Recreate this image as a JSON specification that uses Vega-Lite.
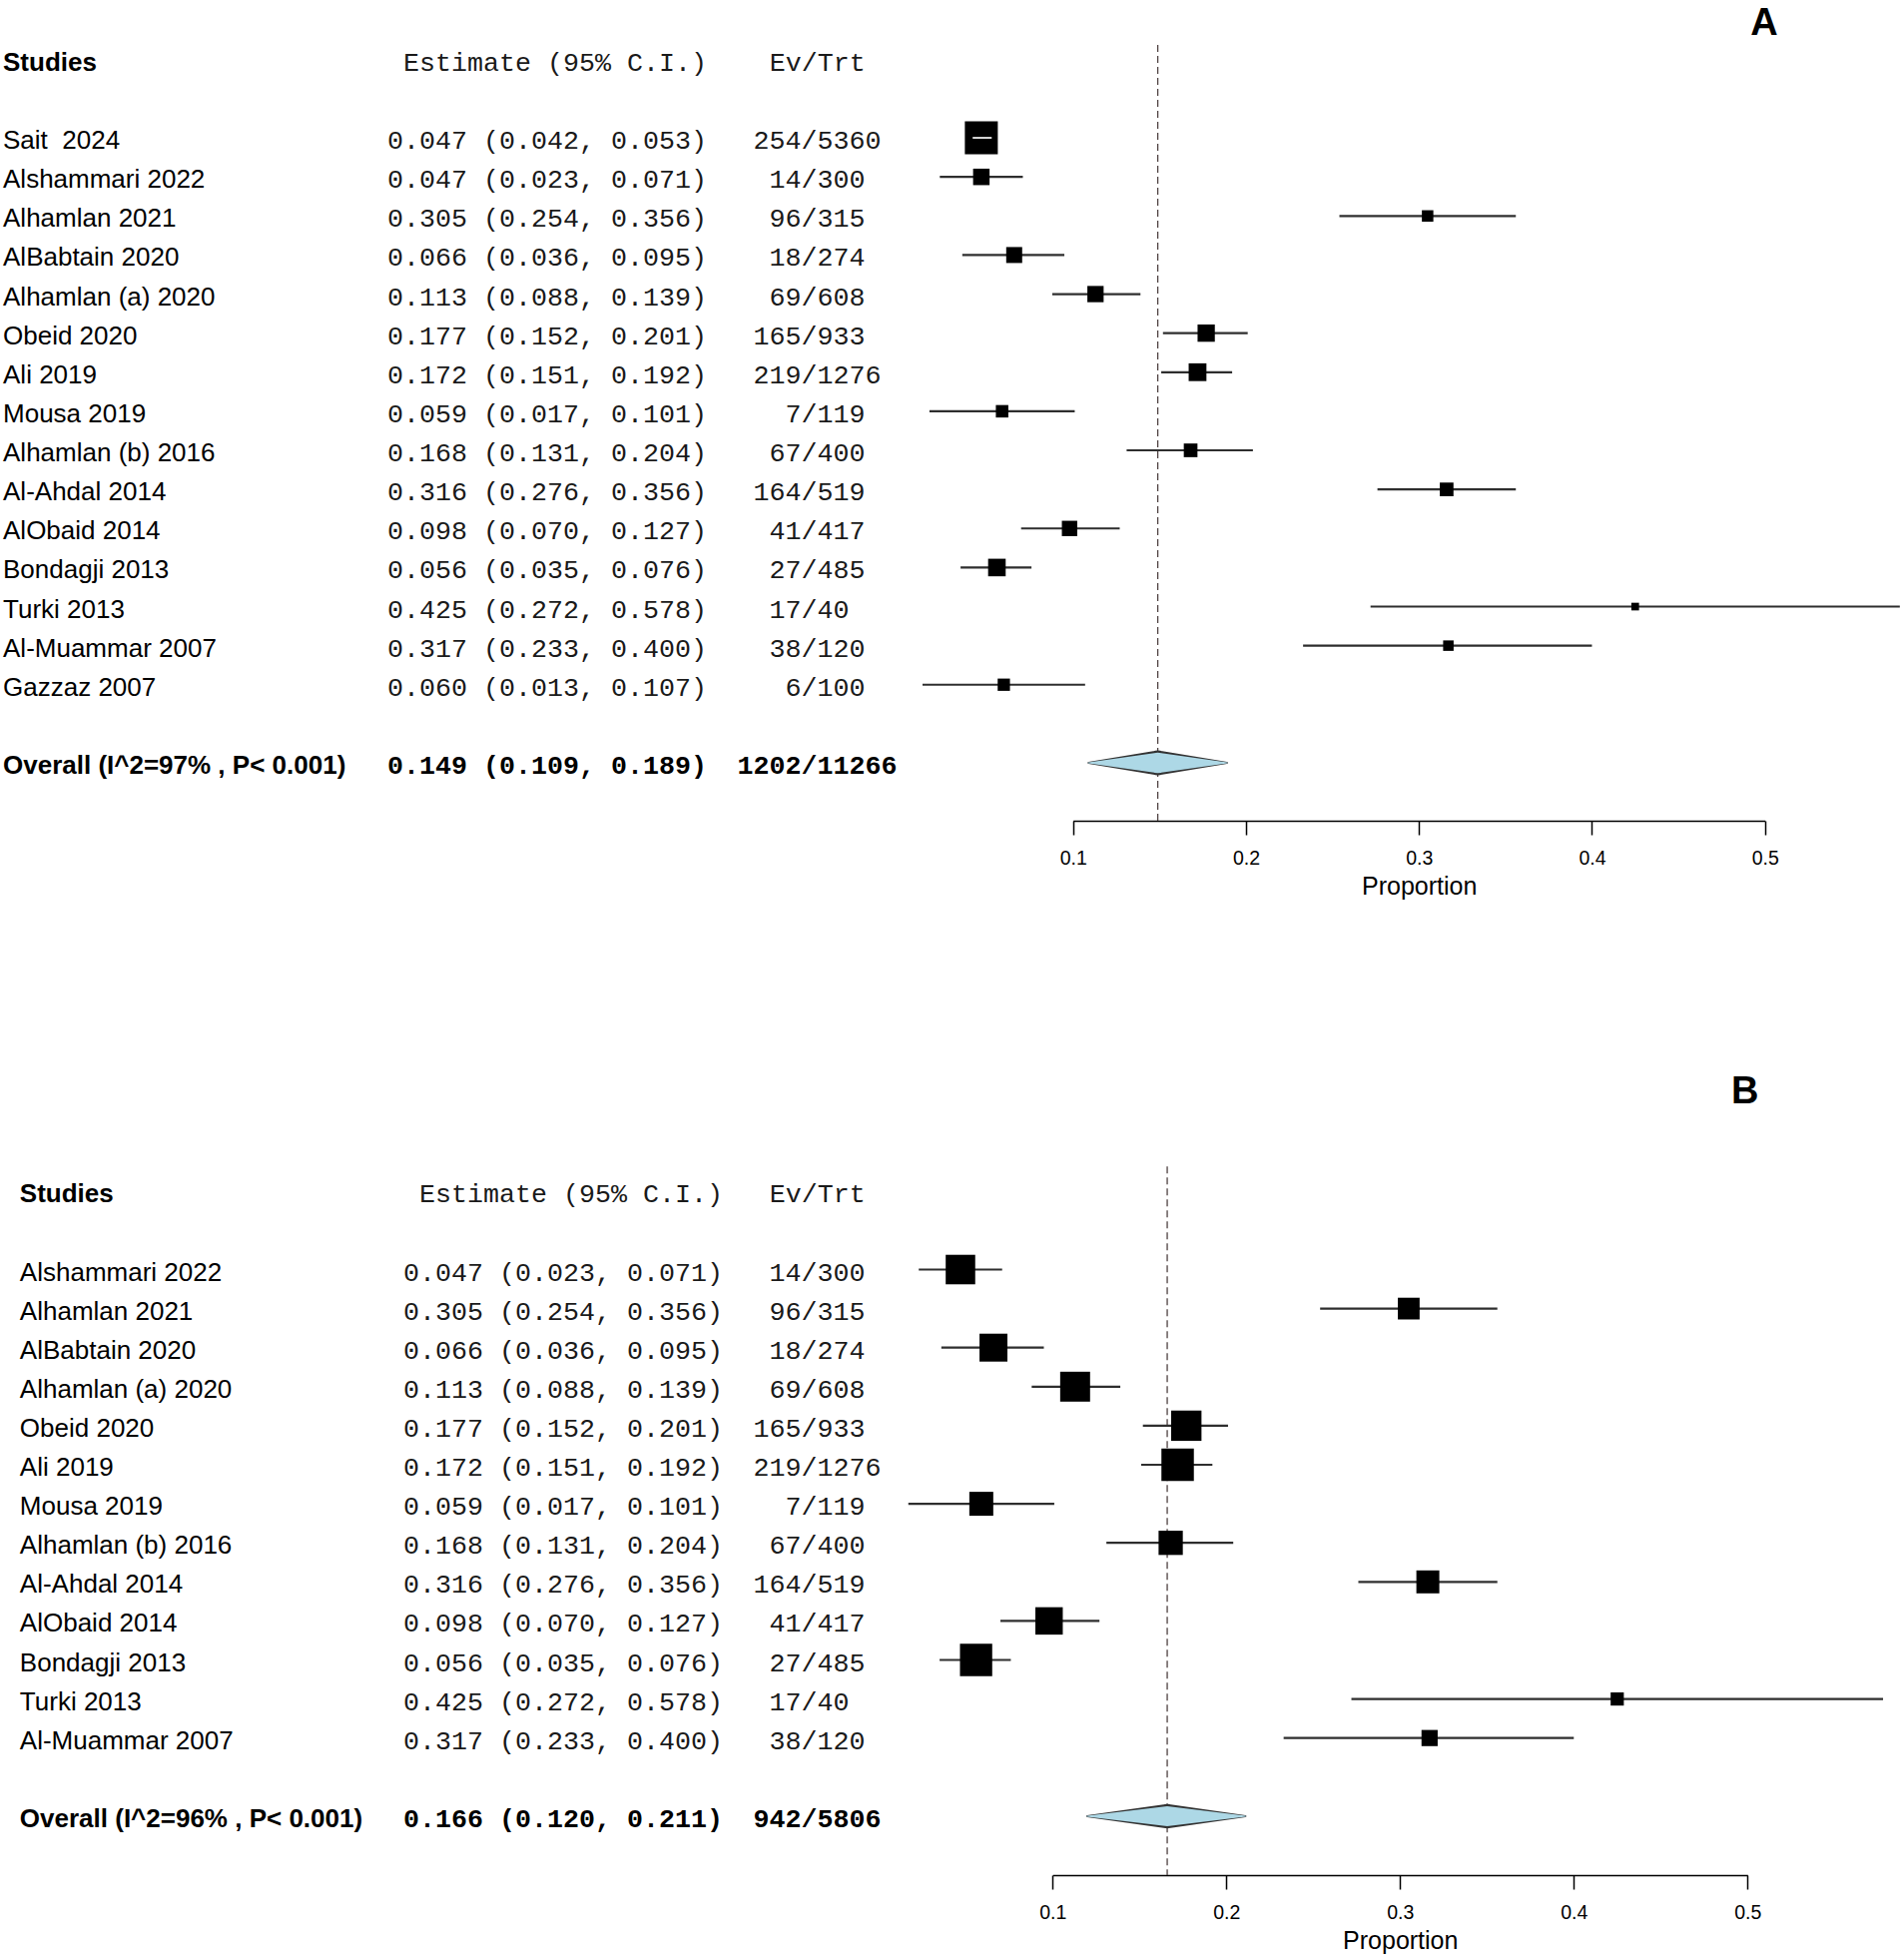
{
"$schema":"https://vega.github.io/schema/vega-lite/v6.json",
"background":"white",
"padding":0,
"spacing":228,
"bounds":"flush",
"config":{
 "view":{"stroke":null},
 "axis":{"grid":false,"domainColor":"black","domainWidth":1.5,"tickColor":"black","tickWidth":1.5,"tickSize":14,"labelFont":"Liberation Sans","labelFontSize":19.5,"labelColor":"black","labelPadding":14,"labelFlush":false,"labelOverlap":false,"titleFont":"Liberation Sans","titleFontSize":25,"titleFontWeight":"normal","titleColor":"black","titlePadding":7}
},
"datasets":{
 "A":[
  {"study":"Sait \u00a02024","row":3,"est":0.047,"lo":0.042,"hi":0.053,"ci":"0.047 (0.042, 0.053)","events":254,"total":5360,"weight":14.24,"type":"study"},
  {"study":"Alshammari 2022","row":4,"est":0.047,"lo":0.023,"hi":0.071,"ci":"0.047 (0.023, 0.071)","events":14,"total":300,"weight":7.12,"type":"study"},
  {"study":"Alhamlan 2021","row":5,"est":0.305,"lo":0.254,"hi":0.356,"ci":"0.305 (0.254, 0.356)","events":96,"total":315,"weight":4.96,"type":"study"},
  {"study":"AlBabtain 2020","row":6,"est":0.066,"lo":0.036,"hi":0.095,"ci":"0.066 (0.036, 0.095)","events":18,"total":274,"weight":6.90,"type":"study"},
  {"study":"Alhamlan (a) 2020","row":7,"est":0.113,"lo":0.088,"hi":0.139,"ci":"0.113 (0.088, 0.139)","events":69,"total":608,"weight":7.03,"type":"study"},
  {"study":"Obeid 2020","row":8,"est":0.177,"lo":0.152,"hi":0.201,"ci":"0.177 (0.152, 0.201)","events":165,"total":933,"weight":7.46,"type":"study"},
  {"study":"Ali 2019","row":9,"est":0.172,"lo":0.151,"hi":0.192,"ci":"0.172 (0.151, 0.192)","events":219,"total":1276,"weight":7.68,"type":"study"},
  {"study":"Mousa 2019","row":10,"est":0.059,"lo":0.017,"hi":0.101,"ci":"0.059 (0.017, 0.101)","events":7,"total":119,"weight":5.39,"type":"study"},
  {"study":"Alhamlan (b) 2016","row":11,"est":0.168,"lo":0.131,"hi":0.204,"ci":"0.168 (0.131, 0.204)","events":67,"total":400,"weight":5.91,"type":"study"},
  {"study":"Al-Ahdal 2014","row":12,"est":0.316,"lo":0.276,"hi":0.356,"ci":"0.316 (0.276, 0.356)","events":164,"total":519,"weight":5.91,"type":"study"},
  {"study":"AlObaid 2014","row":13,"est":0.098,"lo":0.070,"hi":0.127,"ci":"0.098 (0.070, 0.127)","events":41,"total":417,"weight":6.64,"type":"study"},
  {"study":"Bondagji 2013","row":14,"est":0.056,"lo":0.035,"hi":0.076,"ci":"0.056 (0.035, 0.076)","events":27,"total":485,"weight":7.59,"type":"study"},
  {"study":"Turki 2013","row":15,"est":0.425,"lo":0.272,"hi":0.578,"ci":"0.425 (0.272, 0.578)","events":17,"total":40,"weight":3.32,"type":"study"},
  {"study":"Al-Muammar 2007","row":16,"est":0.317,"lo":0.233,"hi":0.400,"ci":"0.317 (0.233, 0.400)","events":38,"total":120,"weight":4.53,"type":"study"},
  {"study":"Gazzaz 2007","row":17,"est":0.060,"lo":0.013,"hi":0.107,"ci":"0.060 (0.013, 0.107)","events":6,"total":100,"weight":5.31,"type":"study"},
  {"study":"Overall (I^2=97% , P< 0.001)","row":19,"est":0.149,"lo":0.109,"hi":0.189,"ci":"0.149 (0.109, 0.189)","events":1202,"total":11266,"type":"overall"}
 ],
 "B":[
  {"study":"Alshammari 2022","row":3,"est":0.047,"lo":0.023,"hi":0.071,"ci":"0.047 (0.023, 0.071)","events":14,"total":300,"weight":8.89,"type":"study"},
  {"study":"Alhamlan 2021","row":4,"est":0.305,"lo":0.254,"hi":0.356,"ci":"0.305 (0.254, 0.356)","events":96,"total":315,"weight":6.55,"type":"study"},
  {"study":"AlBabtain 2020","row":5,"est":0.066,"lo":0.036,"hi":0.095,"ci":"0.066 (0.036, 0.095)","events":18,"total":274,"weight":8.41,"type":"study"},
  {"study":"Alhamlan (a) 2020","row":6,"est":0.113,"lo":0.088,"hi":0.139,"ci":"0.113 (0.088, 0.139)","events":69,"total":608,"weight":9.01,"type":"study"},
  {"study":"Obeid 2020","row":7,"est":0.177,"lo":0.152,"hi":0.201,"ci":"0.177 (0.152, 0.201)","events":165,"total":933,"weight":9.13,"type":"study"},
  {"study":"Ali 2019","row":8,"est":0.172,"lo":0.151,"hi":0.192,"ci":"0.172 (0.151, 0.192)","events":219,"total":1276,"weight":9.77,"type":"study"},
  {"study":"Mousa 2019","row":9,"est":0.059,"lo":0.017,"hi":0.101,"ci":"0.059 (0.017, 0.101)","events":7,"total":119,"weight":7.21,"type":"study"},
  {"study":"Alhamlan (b) 2016","row":10,"est":0.168,"lo":0.131,"hi":0.204,"ci":"0.168 (0.131, 0.204)","events":67,"total":400,"weight":7.30,"type":"study"},
  {"study":"Al-Ahdal 2014","row":11,"est":0.316,"lo":0.276,"hi":0.356,"ci":"0.316 (0.276, 0.356)","events":164,"total":519,"weight":6.91,"type":"study"},
  {"study":"AlObaid 2014","row":12,"est":0.098,"lo":0.070,"hi":0.127,"ci":"0.098 (0.070, 0.127)","events":41,"total":417,"weight":8.26,"type":"study"},
  {"study":"Bondagji 2013","row":13,"est":0.056,"lo":0.035,"hi":0.076,"ci":"0.056 (0.035, 0.076)","events":27,"total":485,"weight":9.71,"type":"study"},
  {"study":"Turki 2013","row":14,"est":0.425,"lo":0.272,"hi":0.578,"ci":"0.425 (0.272, 0.578)","events":17,"total":40,"weight":3.97,"type":"study"},
  {"study":"Al-Muammar 2007","row":15,"est":0.317,"lo":0.233,"hi":0.400,"ci":"0.317 (0.233, 0.400)","events":38,"total":120,"weight":4.87,"type":"study"},
  {"study":"Overall (I^2=96% , P< 0.001)","row":17,"est":0.166,"lo":0.120,"hi":0.211,"ci":"0.166 (0.120, 0.211)","events":942,"total":5806,"type":"overall"}
 ]
},
"resolve":{"scale":{"x":"independent","y":"independent","size":"independent"}},
"vconcat":[
 {"width":1907,"height":822,"data":{"name":"A"},"layer":[
  {"transform":[{"filter":"datum.type === 'overall'"}],"mark":{"type":"rule","stroke":"#4d4040","strokeWidth":1.3,"strokeDash":[7,4]},
   "encoding":{"x":{"field":"est","type":"quantitative","scale":{"domain":[0.1,0.5],"range":[1074.7,1767.7],"nice":false,"zero":false},"axis":{"values":[0.1,0.2,0.3,0.4,0.5],"format":".1f","title":"Proportion"}},
   "y":{"datum":0.62,"type":"quantitative","scale":{"domain":[1,19],"range":[59.8,764],"nice":false,"zero":false},"axis":null},"y2":{"datum":20.49}}},
  {"transform":[{"filter":"datum.type === 'study'"}],"mark":{"type":"rule","stroke":"#2e2e2e","strokeWidth":2.2},
   "encoding":{"x":{"field":"lo","type":"quantitative","scale":{"domain":[0.1,0.5],"range":[1074.7,1767.7],"nice":false,"zero":false},"axis":{"values":[0.1,0.2,0.3,0.4,0.5],"format":".1f","title":"Proportion"}},"x2":{"field":"hi"},
   "y":{"field":"row","type":"quantitative","scale":{"domain":[1,19],"range":[59.8,764],"nice":false,"zero":false},"axis":null}}},
  {"transform":[{"filter":"datum.type === 'study'"}],"mark":{"type":"square","color":"black","opacity":1},
   "encoding":{"x":{"field":"est","type":"quantitative","scale":{"domain":[0.1,0.5],"range":[1074.7,1767.7],"nice":false,"zero":false},"axis":{"values":[0.1,0.2,0.3,0.4,0.5],"format":".1f","title":"Proportion"}},
   "y":{"field":"row","type":"quantitative","scale":{"domain":[1,19],"range":[59.8,764],"nice":false,"zero":false},"axis":null},
   "size":{"field":"weight","type":"quantitative","scale":{"type":"pow","exponent":2,"domain":[0,14.24],"range":[0,1089]},"legend":null}}},
  {"transform":[{"filter":"datum.type === 'study' && datum.hi - datum.lo < 0.015"}],"mark":{"type":"rule","stroke":"#d9d9d9","strokeWidth":2},
   "encoding":{"x":{"field":"lo","type":"quantitative","scale":{"domain":[0.1,0.5],"range":[1074.7,1767.7],"nice":false,"zero":false},"axis":{"values":[0.1,0.2,0.3,0.4,0.5],"format":".1f","title":"Proportion"}},"x2":{"field":"hi"},
   "y":{"field":"row","type":"quantitative","scale":{"domain":[1,19],"range":[59.8,764],"nice":false,"zero":false},"axis":null}}},
  {"transform":[{"filter":"datum.type === 'overall'"},{"fold":["lo","est","hi"],"as":["k","v"]}],"mark":{"type":"trail","color":"#333333"},
   "encoding":{"x":{"field":"v","type":"quantitative","scale":{"domain":[0.1,0.5],"range":[1074.7,1767.7],"nice":false,"zero":false},"axis":{"values":[0.1,0.2,0.3,0.4,0.5],"format":".1f","title":"Proportion"}},
   "y":{"field":"row","type":"quantitative","scale":{"domain":[1,19],"range":[59.8,764],"nice":false,"zero":false},"axis":null},
   "size":{"condition":{"test":"datum.k === 'est'","value":25},"value":2}}},
  {"transform":[{"filter":"datum.type === 'overall'"},{"fold":["lo","est","hi"],"as":["k","v"]}],"mark":{"type":"trail","color":"#ADD8E6"},
   "encoding":{"x":{"field":"v","type":"quantitative","scale":{"domain":[0.1,0.5],"range":[1074.7,1767.7],"nice":false,"zero":false},"axis":{"values":[0.1,0.2,0.3,0.4,0.5],"format":".1f","title":"Proportion"}},
   "y":{"field":"row","type":"quantitative","scale":{"domain":[1,19],"range":[59.8,764],"nice":false,"zero":false},"axis":null},
   "size":{"condition":{"test":"datum.k === 'est'","value":20.5},"value":0}}},
  {"transform":[{"filter":"datum.type === 'study'"}],"mark":{"type":"text","font":"Liberation Sans","fontSize":26,"align":"left","baseline":"alphabetic","dy":11,"fill":"black"},
   "encoding":{"x":{"datum":-0.51858,"type":"quantitative","scale":{"domain":[0.1,0.5],"range":[1074.7,1767.7],"nice":false,"zero":false},"axis":{"values":[0.1,0.2,0.3,0.4,0.5],"format":".1f","title":"Proportion"}},
   "y":{"field":"row","type":"quantitative","scale":{"domain":[1,19],"range":[59.8,764],"nice":false,"zero":false},"axis":null},"text":{"field":"study"}}},
  {"transform":[{"filter":"datum.type === 'overall'"}],"mark":{"type":"text","font":"Liberation Sans","fontSize":26,"fontWeight":"bold","align":"left","baseline":"alphabetic","dy":11,"fill":"black"},
   "encoding":{"x":{"datum":-0.51858,"type":"quantitative","scale":{"domain":[0.1,0.5],"range":[1074.7,1767.7],"nice":false,"zero":false},"axis":{"values":[0.1,0.2,0.3,0.4,0.5],"format":".1f","title":"Proportion"}},
   "y":{"field":"row","type":"quantitative","scale":{"domain":[1,19],"range":[59.8,764],"nice":false,"zero":false},"axis":null},"text":{"field":"study"}}},
  {"transform":[{"filter":"datum.type === 'study'"}],"mark":{"type":"text","font":"Liberation Mono","fontSize":26.67,"align":"right","baseline":"alphabetic","dy":11,"fill":"#1a1a1a"},
   "encoding":{"x":{"datum":-0.11166,"type":"quantitative","scale":{"domain":[0.1,0.5],"range":[1074.7,1767.7],"nice":false,"zero":false},"axis":{"values":[0.1,0.2,0.3,0.4,0.5],"format":".1f","title":"Proportion"}},
   "y":{"field":"row","type":"quantitative","scale":{"domain":[1,19],"range":[59.8,764],"nice":false,"zero":false},"axis":null},"text":{"field":"ci"}}},
  {"transform":[{"filter":"datum.type === 'overall'"}],"mark":{"type":"text","font":"Liberation Mono","fontSize":26.67,"fontWeight":"bold","align":"right","baseline":"alphabetic","dy":11,"fill":"black"},
   "encoding":{"x":{"datum":-0.11166,"type":"quantitative","scale":{"domain":[0.1,0.5],"range":[1074.7,1767.7],"nice":false,"zero":false},"axis":{"values":[0.1,0.2,0.3,0.4,0.5],"format":".1f","title":"Proportion"}},
   "y":{"field":"row","type":"quantitative","scale":{"domain":[1,19],"range":[59.8,764],"nice":false,"zero":false},"axis":null},"text":{"field":"ci"}}},
  {"transform":[{"filter":"datum.type === 'study'"}],"mark":{"type":"text","font":"Liberation Mono","fontSize":26.67,"align":"right","baseline":"alphabetic","dy":11,"fill":"#1a1a1a"},
   "encoding":{"x":{"datum":-0.05711,"type":"quantitative","scale":{"domain":[0.1,0.5],"range":[1074.7,1767.7],"nice":false,"zero":false},"axis":{"values":[0.1,0.2,0.3,0.4,0.5],"format":".1f","title":"Proportion"}},
   "y":{"field":"row","type":"quantitative","scale":{"domain":[1,19],"range":[59.8,764],"nice":false,"zero":false},"axis":null},"text":{"field":"events","type":"quantitative","format":"d"}}},
  {"transform":[{"filter":"datum.type === 'study'"}],"mark":{"type":"text","text":"/","font":"Liberation Mono","fontSize":26.67,"align":"left","baseline":"alphabetic","dy":11,"fill":"#1a1a1a"},
   "encoding":{"x":{"datum":-0.05711,"type":"quantitative","scale":{"domain":[0.1,0.5],"range":[1074.7,1767.7],"nice":false,"zero":false},"axis":{"values":[0.1,0.2,0.3,0.4,0.5],"format":".1f","title":"Proportion"}},
   "y":{"field":"row","type":"quantitative","scale":{"domain":[1,19],"range":[59.8,764],"nice":false,"zero":false},"axis":null}}},
  {"transform":[{"filter":"datum.type === 'study'"}],"mark":{"type":"text","font":"Liberation Mono","fontSize":26.67,"align":"left","baseline":"alphabetic","dx":16,"dy":11,"fill":"#1a1a1a"},
   "encoding":{"x":{"datum":-0.05711,"type":"quantitative","scale":{"domain":[0.1,0.5],"range":[1074.7,1767.7],"nice":false,"zero":false},"axis":{"values":[0.1,0.2,0.3,0.4,0.5],"format":".1f","title":"Proportion"}},
   "y":{"field":"row","type":"quantitative","scale":{"domain":[1,19],"range":[59.8,764],"nice":false,"zero":false},"axis":null},"text":{"field":"total","type":"quantitative","format":"d"}}},
  {"transform":[{"filter":"datum.type === 'overall'"}],"mark":{"type":"text","font":"Liberation Mono","fontSize":26.67,"fontWeight":"bold","align":"right","baseline":"alphabetic","dy":11,"fill":"black"},
   "encoding":{"x":{"datum":-0.05711,"type":"quantitative","scale":{"domain":[0.1,0.5],"range":[1074.7,1767.7],"nice":false,"zero":false},"axis":{"values":[0.1,0.2,0.3,0.4,0.5],"format":".1f","title":"Proportion"}},
   "y":{"field":"row","type":"quantitative","scale":{"domain":[1,19],"range":[59.8,764],"nice":false,"zero":false},"axis":null},"text":{"field":"events","type":"quantitative","format":"d"}}},
  {"transform":[{"filter":"datum.type === 'overall'"}],"mark":{"type":"text","text":"/","font":"Liberation Mono","fontSize":26.67,"fontWeight":"bold","align":"left","baseline":"alphabetic","dy":11,"fill":"black"},
   "encoding":{"x":{"datum":-0.05711,"type":"quantitative","scale":{"domain":[0.1,0.5],"range":[1074.7,1767.7],"nice":false,"zero":false},"axis":{"values":[0.1,0.2,0.3,0.4,0.5],"format":".1f","title":"Proportion"}},
   "y":{"field":"row","type":"quantitative","scale":{"domain":[1,19],"range":[59.8,764],"nice":false,"zero":false},"axis":null}}},
  {"transform":[{"filter":"datum.type === 'overall'"}],"mark":{"type":"text","font":"Liberation Mono","fontSize":26.67,"fontWeight":"bold","align":"left","baseline":"alphabetic","dx":16,"dy":11,"fill":"black"},
   "encoding":{"x":{"datum":-0.05711,"type":"quantitative","scale":{"domain":[0.1,0.5],"range":[1074.7,1767.7],"nice":false,"zero":false},"axis":{"values":[0.1,0.2,0.3,0.4,0.5],"format":".1f","title":"Proportion"}},
   "y":{"field":"row","type":"quantitative","scale":{"domain":[1,19],"range":[59.8,764],"nice":false,"zero":false},"axis":null},"text":{"field":"total","type":"quantitative","format":"d"}}},
  {"data":{"values":[{}]},"mark":{"type":"text","text":"Studies","font":"Liberation Sans","fontSize":26,"fontWeight":"bold","align":"left","baseline":"alphabetic","dy":11,"fill":"black"},
   "encoding":{"x":{"datum":-0.51858,"type":"quantitative","scale":{"domain":[0.1,0.5],"range":[1074.7,1767.7],"nice":false,"zero":false},"axis":{"values":[0.1,0.2,0.3,0.4,0.5],"format":".1f","title":"Proportion"}},
   "y":{"datum":1,"type":"quantitative","scale":{"domain":[1,19],"range":[59.8,764],"nice":false,"zero":false},"axis":null}}},
  {"data":{"values":[{}]},"mark":{"type":"text","text":"Estimate (95% C.I.)","font":"Liberation Mono","fontSize":26.67,"align":"right","baseline":"alphabetic","dy":11,"fill":"#1a1a1a"},
   "encoding":{"x":{"datum":-0.11166,"type":"quantitative","scale":{"domain":[0.1,0.5],"range":[1074.7,1767.7],"nice":false,"zero":false},"axis":{"values":[0.1,0.2,0.3,0.4,0.5],"format":".1f","title":"Proportion"}},
   "y":{"datum":1,"type":"quantitative","scale":{"domain":[1,19],"range":[59.8,764],"nice":false,"zero":false},"axis":null}}},
  {"data":{"values":[{}]},"mark":{"type":"text","text":"Ev/Trt","font":"Liberation Mono","fontSize":26.67,"align":"right","baseline":"alphabetic","dy":11,"fill":"#1a1a1a"},
   "encoding":{"x":{"datum":-0.02006,"type":"quantitative","scale":{"domain":[0.1,0.5],"range":[1074.7,1767.7],"nice":false,"zero":false},"axis":{"values":[0.1,0.2,0.3,0.4,0.5],"format":".1f","title":"Proportion"}},
   "y":{"datum":1,"type":"quantitative","scale":{"domain":[1,19],"range":[59.8,764],"nice":false,"zero":false},"axis":null}}},
  {"data":{"values":[{}]},"mark":{"type":"text","text":"A","font":"Liberation Sans","fontSize":38,"fontWeight":"bold","align":"center","baseline":"alphabetic","fill":"black"},
   "encoding":{"x":{"datum":0.4996,"type":"quantitative","scale":{"domain":[0.1,0.5],"range":[1074.7,1767.7],"nice":false,"zero":false},"axis":{"values":[0.1,0.2,0.3,0.4,0.5],"format":".1f","title":"Proportion"}},
   "y":{"datum":0.366,"type":"quantitative","scale":{"domain":[1,19],"range":[59.8,764],"nice":false,"zero":false},"axis":null}}}
 ]},
 {"width":1907,"height":828,"data":{"name":"B"},"layer":[
  {"transform":[{"filter":"datum.type === 'overall'"}],"mark":{"type":"rule","stroke":"#4d4040","strokeWidth":1.3,"strokeDash":[7,4]},
   "encoding":{"x":{"field":"est","type":"quantitative","scale":{"domain":[0.1,0.5],"range":[1054.2,1750.3],"nice":false,"zero":false},"axis":{"values":[0.1,0.2,0.3,0.4,0.5],"format":".1f","title":"Proportion"}},
   "y":{"datum":0.361,"type":"quantitative","scale":{"domain":[1,17],"range":[143.3,768.9],"nice":false,"zero":false},"axis":null},"y2":{"datum":18.512}}},
  {"transform":[{"filter":"datum.type === 'study'"}],"mark":{"type":"rule","stroke":"#2e2e2e","strokeWidth":2.2},
   "encoding":{"x":{"field":"lo","type":"quantitative","scale":{"domain":[0.1,0.5],"range":[1054.2,1750.3],"nice":false,"zero":false},"axis":{"values":[0.1,0.2,0.3,0.4,0.5],"format":".1f","title":"Proportion"}},"x2":{"field":"hi"},
   "y":{"field":"row","type":"quantitative","scale":{"domain":[1,17],"range":[143.3,768.9],"nice":false,"zero":false},"axis":null}}},
  {"transform":[{"filter":"datum.type === 'study'"}],"mark":{"type":"square","color":"black","opacity":1},
   "encoding":{"x":{"field":"est","type":"quantitative","scale":{"domain":[0.1,0.5],"range":[1054.2,1750.3],"nice":false,"zero":false},"axis":{"values":[0.1,0.2,0.3,0.4,0.5],"format":".1f","title":"Proportion"}},
   "y":{"field":"row","type":"quantitative","scale":{"domain":[1,17],"range":[143.3,768.9],"nice":false,"zero":false},"axis":null},
   "size":{"field":"weight","type":"quantitative","scale":{"type":"pow","exponent":2,"domain":[0,9.77],"range":[0,1056]},"legend":null}}},
  {"transform":[{"filter":"datum.type === 'overall'"},{"fold":["lo","est","hi"],"as":["k","v"]}],"mark":{"type":"trail","color":"#333333"},
   "encoding":{"x":{"field":"v","type":"quantitative","scale":{"domain":[0.1,0.5],"range":[1054.2,1750.3],"nice":false,"zero":false},"axis":{"values":[0.1,0.2,0.3,0.4,0.5],"format":".1f","title":"Proportion"}},
   "y":{"field":"row","type":"quantitative","scale":{"domain":[1,17],"range":[143.3,768.9],"nice":false,"zero":false},"axis":null},
   "size":{"condition":{"test":"datum.k === 'est'","value":24.5},"value":2}}},
  {"transform":[{"filter":"datum.type === 'overall'"},{"fold":["lo","est","hi"],"as":["k","v"]}],"mark":{"type":"trail","color":"#ADD8E6"},
   "encoding":{"x":{"field":"v","type":"quantitative","scale":{"domain":[0.1,0.5],"range":[1054.2,1750.3],"nice":false,"zero":false},"axis":{"values":[0.1,0.2,0.3,0.4,0.5],"format":".1f","title":"Proportion"}},
   "y":{"field":"row","type":"quantitative","scale":{"domain":[1,17],"range":[143.3,768.9],"nice":false,"zero":false},"axis":null},
   "size":{"condition":{"test":"datum.k === 'est'","value":20},"value":0}}},
  {"transform":[{"filter":"datum.type === 'study'"}],"mark":{"type":"text","font":"Liberation Sans","fontSize":26,"align":"left","baseline":"alphabetic","dy":11,"fill":"black"},
   "encoding":{"x":{"datum":-0.49437,"type":"quantitative","scale":{"domain":[0.1,0.5],"range":[1054.2,1750.3],"nice":false,"zero":false},"axis":{"values":[0.1,0.2,0.3,0.4,0.5],"format":".1f","title":"Proportion"}},
   "y":{"field":"row","type":"quantitative","scale":{"domain":[1,17],"range":[143.3,768.9],"nice":false,"zero":false},"axis":null},"text":{"field":"study"}}},
  {"transform":[{"filter":"datum.type === 'overall'"}],"mark":{"type":"text","font":"Liberation Sans","fontSize":26,"fontWeight":"bold","align":"left","baseline":"alphabetic","dy":11,"fill":"black"},
   "encoding":{"x":{"datum":-0.49437,"type":"quantitative","scale":{"domain":[0.1,0.5],"range":[1054.2,1750.3],"nice":false,"zero":false},"axis":{"values":[0.1,0.2,0.3,0.4,0.5],"format":".1f","title":"Proportion"}},
   "y":{"field":"row","type":"quantitative","scale":{"domain":[1,17],"range":[143.3,768.9],"nice":false,"zero":false},"axis":null},"text":{"field":"study"}}},
  {"transform":[{"filter":"datum.type === 'study'"}],"mark":{"type":"text","font":"Liberation Mono","fontSize":26.67,"align":"right","baseline":"alphabetic","dy":11,"fill":"#1a1a1a"},
   "encoding":{"x":{"datum":-0.08977,"type":"quantitative","scale":{"domain":[0.1,0.5],"range":[1054.2,1750.3],"nice":false,"zero":false},"axis":{"values":[0.1,0.2,0.3,0.4,0.5],"format":".1f","title":"Proportion"}},
   "y":{"field":"row","type":"quantitative","scale":{"domain":[1,17],"range":[143.3,768.9],"nice":false,"zero":false},"axis":null},"text":{"field":"ci"}}},
  {"transform":[{"filter":"datum.type === 'overall'"}],"mark":{"type":"text","font":"Liberation Mono","fontSize":26.67,"fontWeight":"bold","align":"right","baseline":"alphabetic","dy":11,"fill":"black"},
   "encoding":{"x":{"datum":-0.08977,"type":"quantitative","scale":{"domain":[0.1,0.5],"range":[1054.2,1750.3],"nice":false,"zero":false},"axis":{"values":[0.1,0.2,0.3,0.4,0.5],"format":".1f","title":"Proportion"}},
   "y":{"field":"row","type":"quantitative","scale":{"domain":[1,17],"range":[143.3,768.9],"nice":false,"zero":false},"axis":null},"text":{"field":"ci"}}},
  {"transform":[{"filter":"datum.type === 'study'"}],"mark":{"type":"text","font":"Liberation Mono","fontSize":26.67,"align":"right","baseline":"alphabetic","dy":11,"fill":"#1a1a1a"},
   "encoding":{"x":{"datum":-0.04466,"type":"quantitative","scale":{"domain":[0.1,0.5],"range":[1054.2,1750.3],"nice":false,"zero":false},"axis":{"values":[0.1,0.2,0.3,0.4,0.5],"format":".1f","title":"Proportion"}},
   "y":{"field":"row","type":"quantitative","scale":{"domain":[1,17],"range":[143.3,768.9],"nice":false,"zero":false},"axis":null},"text":{"field":"events","type":"quantitative","format":"d"}}},
  {"transform":[{"filter":"datum.type === 'study'"}],"mark":{"type":"text","text":"/","font":"Liberation Mono","fontSize":26.67,"align":"left","baseline":"alphabetic","dy":11,"fill":"#1a1a1a"},
   "encoding":{"x":{"datum":-0.04466,"type":"quantitative","scale":{"domain":[0.1,0.5],"range":[1054.2,1750.3],"nice":false,"zero":false},"axis":{"values":[0.1,0.2,0.3,0.4,0.5],"format":".1f","title":"Proportion"}},
   "y":{"field":"row","type":"quantitative","scale":{"domain":[1,17],"range":[143.3,768.9],"nice":false,"zero":false},"axis":null}}},
  {"transform":[{"filter":"datum.type === 'study'"}],"mark":{"type":"text","font":"Liberation Mono","fontSize":26.67,"align":"left","baseline":"alphabetic","dx":16,"dy":11,"fill":"#1a1a1a"},
   "encoding":{"x":{"datum":-0.04466,"type":"quantitative","scale":{"domain":[0.1,0.5],"range":[1054.2,1750.3],"nice":false,"zero":false},"axis":{"values":[0.1,0.2,0.3,0.4,0.5],"format":".1f","title":"Proportion"}},
   "y":{"field":"row","type":"quantitative","scale":{"domain":[1,17],"range":[143.3,768.9],"nice":false,"zero":false},"axis":null},"text":{"field":"total","type":"quantitative","format":"d"}}},
  {"transform":[{"filter":"datum.type === 'overall'"}],"mark":{"type":"text","font":"Liberation Mono","fontSize":26.67,"fontWeight":"bold","align":"right","baseline":"alphabetic","dy":11,"fill":"black"},
   "encoding":{"x":{"datum":-0.04466,"type":"quantitative","scale":{"domain":[0.1,0.5],"range":[1054.2,1750.3],"nice":false,"zero":false},"axis":{"values":[0.1,0.2,0.3,0.4,0.5],"format":".1f","title":"Proportion"}},
   "y":{"field":"row","type":"quantitative","scale":{"domain":[1,17],"range":[143.3,768.9],"nice":false,"zero":false},"axis":null},"text":{"field":"events","type":"quantitative","format":"d"}}},
  {"transform":[{"filter":"datum.type === 'overall'"}],"mark":{"type":"text","text":"/","font":"Liberation Mono","fontSize":26.67,"fontWeight":"bold","align":"left","baseline":"alphabetic","dy":11,"fill":"black"},
   "encoding":{"x":{"datum":-0.04466,"type":"quantitative","scale":{"domain":[0.1,0.5],"range":[1054.2,1750.3],"nice":false,"zero":false},"axis":{"values":[0.1,0.2,0.3,0.4,0.5],"format":".1f","title":"Proportion"}},
   "y":{"field":"row","type":"quantitative","scale":{"domain":[1,17],"range":[143.3,768.9],"nice":false,"zero":false},"axis":null}}},
  {"transform":[{"filter":"datum.type === 'overall'"}],"mark":{"type":"text","font":"Liberation Mono","fontSize":26.67,"fontWeight":"bold","align":"left","baseline":"alphabetic","dx":16,"dy":11,"fill":"black"},
   "encoding":{"x":{"datum":-0.04466,"type":"quantitative","scale":{"domain":[0.1,0.5],"range":[1054.2,1750.3],"nice":false,"zero":false},"axis":{"values":[0.1,0.2,0.3,0.4,0.5],"format":".1f","title":"Proportion"}},
   "y":{"field":"row","type":"quantitative","scale":{"domain":[1,17],"range":[143.3,768.9],"nice":false,"zero":false},"axis":null},"text":{"field":"total","type":"quantitative","format":"d"}}},
  {"data":{"values":[{}]},"mark":{"type":"text","text":"Studies","font":"Liberation Sans","fontSize":26,"fontWeight":"bold","align":"left","baseline":"alphabetic","dy":11,"fill":"black"},
   "encoding":{"x":{"datum":-0.49437,"type":"quantitative","scale":{"domain":[0.1,0.5],"range":[1054.2,1750.3],"nice":false,"zero":false},"axis":{"values":[0.1,0.2,0.3,0.4,0.5],"format":".1f","title":"Proportion"}},
   "y":{"datum":1,"type":"quantitative","scale":{"domain":[1,17],"range":[143.3,768.9],"nice":false,"zero":false},"axis":null}}},
  {"data":{"values":[{}]},"mark":{"type":"text","text":"Estimate (95% C.I.)","font":"Liberation Mono","fontSize":26.67,"align":"right","baseline":"alphabetic","dy":11,"fill":"#1a1a1a"},
   "encoding":{"x":{"datum":-0.08977,"type":"quantitative","scale":{"domain":[0.1,0.5],"range":[1054.2,1750.3],"nice":false,"zero":false},"axis":{"values":[0.1,0.2,0.3,0.4,0.5],"format":".1f","title":"Proportion"}},
   "y":{"datum":1,"type":"quantitative","scale":{"domain":[1,17],"range":[143.3,768.9],"nice":false,"zero":false},"axis":null}}},
  {"data":{"values":[{}]},"mark":{"type":"text","text":"Ev/Trt","font":"Liberation Mono","fontSize":26.67,"align":"right","baseline":"alphabetic","dy":11,"fill":"#1a1a1a"},
   "encoding":{"x":{"datum":-0.00776,"type":"quantitative","scale":{"domain":[0.1,0.5],"range":[1054.2,1750.3],"nice":false,"zero":false},"axis":{"values":[0.1,0.2,0.3,0.4,0.5],"format":".1f","title":"Proportion"}},
   "y":{"datum":1,"type":"quantitative","scale":{"domain":[1,17],"range":[143.3,768.9],"nice":false,"zero":false},"axis":null}}},
  {"data":{"values":[{}]},"mark":{"type":"text","text":"B","font":"Liberation Sans","fontSize":38,"fontWeight":"bold","align":"center","baseline":"alphabetic","fill":"black"},
   "encoding":{"x":{"datum":0.49856,"type":"quantitative","scale":{"domain":[0.1,0.5],"range":[1054.2,1750.3],"nice":false,"zero":false},"axis":{"values":[0.1,0.2,0.3,0.4,0.5],"format":".1f","title":"Proportion"}},
   "y":{"datum":-1.258,"type":"quantitative","scale":{"domain":[1,17],"range":[143.3,768.9],"nice":false,"zero":false},"axis":null}}}
 ]}
]
}
